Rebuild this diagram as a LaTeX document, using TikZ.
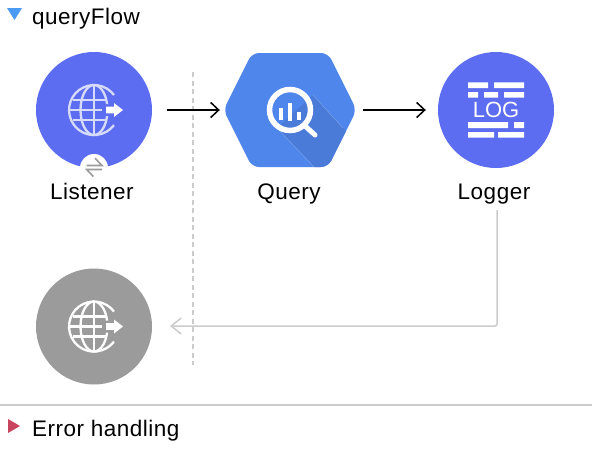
\documentclass[tikz,border=0pt]{standalone}
\usepackage{fontspec}
\setmainfont{Liberation Sans}
\usetikzlibrary{arrows.meta}
\definecolor{flowblue}{HTML}{5C6DF1}
\definecolor{globeline}{HTML}{D6DAFB}
\definecolor{hexblue}{HTML}{4F86EC}
\definecolor{hexshade}{HTML}{4A7BD8}
\definecolor{greydisc}{HTML}{9B9B9B}
\definecolor{paleline}{HTML}{CCCCCC}
\definecolor{tribad}{HTML}{C9455F}
\definecolor{trigood}{HTML}{4A9BF5}
\tikzset{
  x=1pt,y=-1pt,
  disc/.style={circle,inner sep=0pt,minimum size=116pt,fill=#1},
  caption/.style={inner sep=0pt,text=black,font=\fontsize{22.5}{26}\selectfont\addfontfeature{LetterSpace=2.2}},
  flow/.style={black,line width=1.5pt,-{Straight Barb[length=8pt,width=15pt,line width=1.5pt]}},
  backflow/.style={paleline,line width=1.5pt,rounded corners=2pt,-{Straight Barb[length=10pt,width=16pt,line width=1.5pt]}},
}
\newcommand{\globeicon}[3]{%
  \begin{scope}[shift={(#1,#2)},draw=#3,line width=2.3pt]
    \draw (20,-15) arc[start angle=37,end angle=323,radius=25pt];
    \begin{scope}
      \clip (-30,-30) rectangle (30,-6) (-30,-6) rectangle (10,6) (-30,6) rectangle (30,30);
      \draw (0,0) circle[x radius=13.5pt,y radius=25pt];
    \end{scope}
    \draw (-21.5,-10) -- (12,-10) (-25,0) -- (8,0) (-21.5,10) -- (12,10);
    \draw (0,-25) -- (0,25);
    \fill[white] (12,-3.3) -- (20,-3.3) -- (20,-7) -- (29,0) -- (20,7) -- (20,3.3) -- (12,3.3) -- cycle;
  \end{scope}}
\begin{document}
\begin{tikzpicture}
  \path[use as bounding box,fill=white] (0,0) rectangle (592,450);
  % headers
  \fill[trigood] (7,8) -- (22,8) -- (14.5,20) -- cycle;
  \node[caption,anchor=base west] (flowtitle) at (32,24.5) {queryFlow};
  % Listener
  \node[disc=flowblue] (listener) at (94,110) {};
  \globeicon{94}{110}{globeline}
  \node[circle,fill=white,inner sep=0pt,minimum size=28pt] (badge) at (94,168) {};
  \draw[greydisc,line width=1.6pt] (86.7,165.5) -- (102,165.5) -- (95,158.3);
  \draw[greydisc,line width=1.6pt] (102,169.5) -- (86.7,169.5) -- (93.3,176.5);
  \node[caption,anchor=base] (listenertext) at (92,199) {Listener};
  % Query
  \node[inner sep=0pt,minimum width=128pt,minimum height=114pt] (query) at (290,110) {};
  \begin{scope}
    \clip[rounded corners=7pt] (223.5,110) -- (252,53) -- (328,53) -- (356.5,110) -- (328,167) -- (252,167) -- cycle;
    \fill[hexblue] (220,45) rectangle (360,175);
    \fill[hexshade] (313,95) -- (360,147) -- (360,175) -- (322,175) -- (277,128) -- cycle;
    \draw[white,opacity=.25,line width=.5pt] (313,95) -- (343,128) (277,128) -- (314,167);
  \end{scope}
  \draw[white,line width=5.5pt] (290,110) circle[radius=20.5pt];
  \draw[white,line width=5pt,line cap=round] (304,125) -- (315,135);
  \fill[white] (279,108) rectangle (282.7,120);
  \fill[white] (288,102.7) rectangle (292.3,120.5);
  \fill[white] (297,111.7) rectangle (301,120);
  \node[caption,anchor=base] (querytext) at (289,199) {Query};
  % Logger
  \node[disc=flowblue] (logger) at (496,110) {};
  \fill[white]
    (468,82.3) rectangle (488,88) (494,82.3) rectangle (524,88)
    (468,92) rectangle (478,97.7) (484,92) rectangle (498,97.7) (504,92) rectangle (524,97.7)
    (468,122) rectangle (508,128) (514,122) rectangle (524,128)
    (468,132) rectangle (494,137.7) (498,132) rectangle (524,137.7);
  \node[inner sep=0pt,text=white,font=\fontsize{22}{24}\selectfont] (logtext) at (496,110) {LOG};
  \node[caption,anchor=base] (loggertext) at (494,199) {Logger};
  % Back end
  \node[disc=greydisc] (source) at (94,326.5) {};
  \globeicon{94}{326.5}{white}
  % Frame
  \draw[paleline,line width=1.5pt,dash pattern=on 5pt off 3.5pt] (193,72) -- (193,365);
  \coordinate (turn) at (497,326);
  \draw[flow,yshift=-.7pt,shorten <=15pt,shorten >=6pt] (listener) -- (query);
  \draw[flow,yshift=-.7pt,shorten <=9pt,shorten >=12pt] (query) -- (logger);
  \draw[backflow] (497,210) -- (turn) -- (170,326);
  % Footer
  \draw[paleline,line width=1.5pt] (0,405) -- (592,405);
  \fill[tribad] (8,419) -- (20,426) -- (8,433) -- cycle;
  \node[caption,anchor=base west] (errortext) at (32,436) {Error handling};
\end{tikzpicture}
\end{document}
